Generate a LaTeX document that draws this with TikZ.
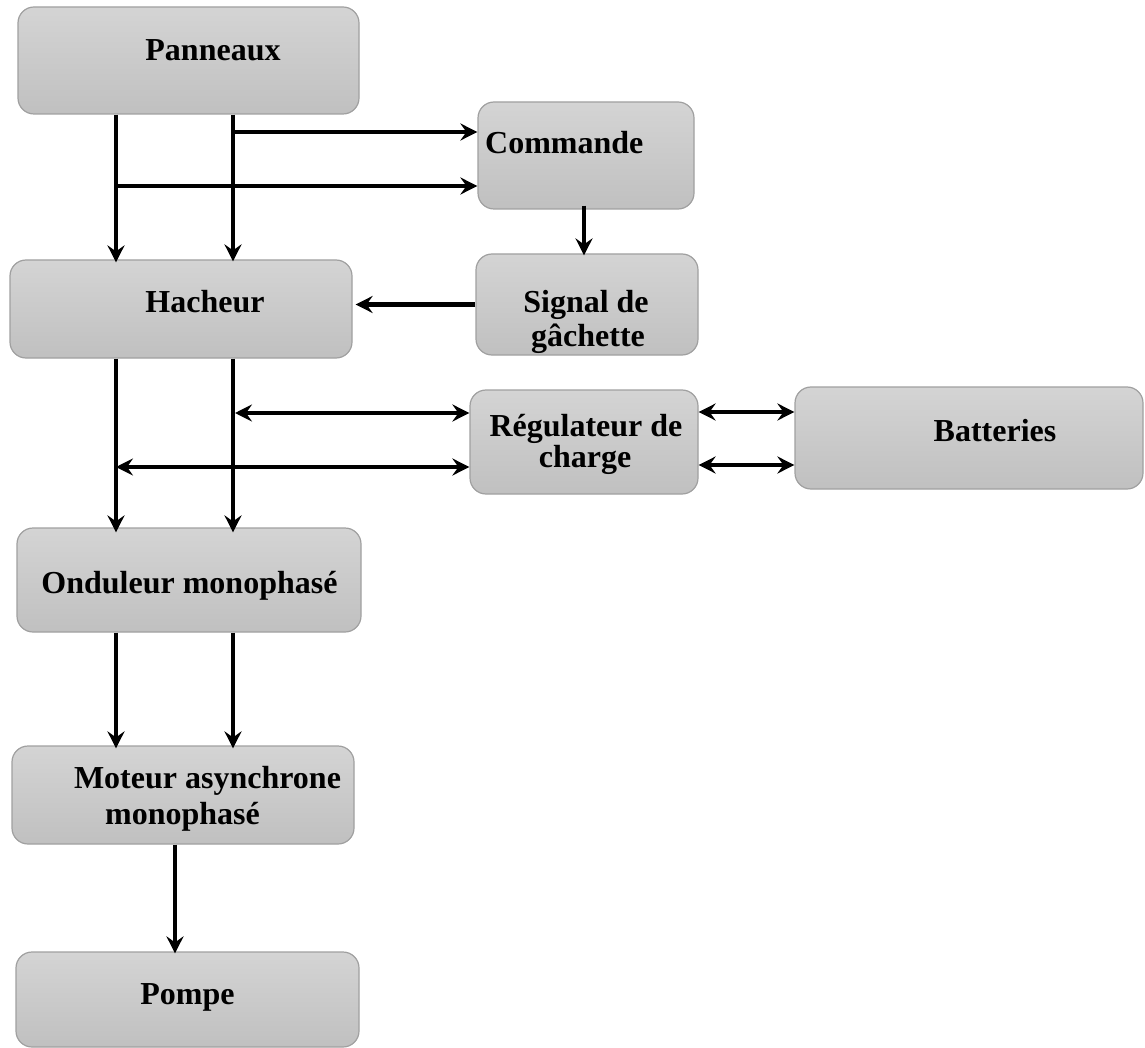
\documentclass[tikz,border=0pt]{standalone}
\usepackage{fontspec}
\setmainfont{Liberation Serif}
\usetikzlibrary{arrows.meta}

\tikzset{
  box/.style={draw={rgb,255:red,160;green,160;blue,160}, line width=1.2pt,
    rounded corners=16pt, inner sep=0pt,
    top color={rgb,255:red,212;green,212;blue,212},
    bottom color={rgb,255:red,192;green,192;blue,192}},
  lbl/.style={anchor=base, inner sep=0pt, text=black,
    font=\fontsize{32}{36}\selectfont\bfseries},
  tip/.tip={Stealth[length=17pt,width=17pt,inset=6pt]},
  arr/.style={line width=4.5pt, -tip},
  arrtwo/.style={line width=4.5pt, tip-tip}
}

\begin{document}
\begin{tikzpicture}[x=1pt,y=-1pt]
\useasboundingbox (0,0) rectangle (1145,1048);

% blocks
\node[box, minimum width=341pt, minimum height=107pt] (pan) at (188.5,60.5) {};
\node[box, minimum width=216pt, minimum height=107pt] (com) at (586,155.5) {};
\node[box, minimum width=342pt, minimum height=98pt]  (hac) at (181,309) {};
\node[box, minimum width=222pt, minimum height=101pt] (sig) at (587,304.5) {};
\node[box, minimum width=228pt, minimum height=104pt] (reg) at (584,442) {};
\node[box, minimum width=348pt, minimum height=102pt] (bat) at (969,438) {};
\node[box, minimum width=344pt, minimum height=104pt] (ond) at (189,580) {};
\node[box, minimum width=342pt, minimum height=98pt]  (mot) at (183,795) {};
\node[box, minimum width=343pt, minimum height=95pt]  (pom) at (187.5,999.5) {};

% labels
\node[lbl] (panT) at (213,61) {Panneaux};
\node[lbl, anchor=base west] (comT) at (485,154) {Commande};
\node[lbl] (hacT) at (205,313) {Hacheur};
\node[lbl] (sigT1) at (586,313) {Signal de};
\node[lbl] (sigT2) at (588,346) {gâchette};
\node[lbl] (regT1) at (586,436) {Régulateur de};
\node[lbl] (regT2) at (585,467) {charge};
\node[lbl] (batT) at (995,441) {Batteries};
\node[lbl] (ondT) at (189.5,593) {Onduleur monophasé};
\node[lbl] (motT1) at (207.5,788) {Moteur asynchrone};
\node[lbl] (motT2) at (182.5,824) {monophasé};
\node[lbl] (pomT) at (187.5,1004) {Pompe};

% bus lines and junctions
\coordinate (xa) at (116,0);
\coordinate (xb) at (233,0);
\coordinate (xc) at (175,0);
\coordinate (j1) at (233,132);
\coordinate (j2) at (116,186);
\coordinate (j3) at (235,413);
\coordinate (j4) at (116,467);
\coordinate (yr1) at (0,412);
\coordinate (yr2) at (0,465);

% connectors
\draw[arr] (xa |- pan.south) -- ([yshift=-3pt]xa |- hac.north);
\draw[arr] (xb |- pan.south) -- ([yshift=-2pt]xb |- hac.north);
\draw[arr] (j1) -- (j1 -| com.west);
\draw[arr] (j2) -- (j2 -| com.west);
\draw[arr] ([yshift=4pt]com.south -| 584,0) -- ([yshift=-2pt]sig.north -| 584,0);
\draw[arr] (sig.west) -- ([xshift=3pt]sig.west -| hac.east);
\draw[arr] (xa |- hac.south) -- ([yshift=-5pt]xa |- ond.north);
\draw[arr] (xb |- hac.south) -- ([yshift=-5pt]xb |- ond.north);
\draw[arrtwo] (j3) -- (j3 -| reg.west);
\draw[arrtwo] (j4) -- (j4 -| reg.west);
\draw[arrtwo] (reg.east |- yr1) -- (bat.west |- yr1);
\draw[arrtwo] (reg.east |- yr2) -- (bat.west |- yr2);
\draw[arr] (xa |- ond.south) -- ([yshift=-3pt]xa |- mot.north);
\draw[arr] (xb |- ond.south) -- ([yshift=-3pt]xb |- mot.north);
\draw[arr] (xc |- mot.south) -- ([yshift=-2pt]xc |- pom.north);
\end{tikzpicture}
\end{document}
